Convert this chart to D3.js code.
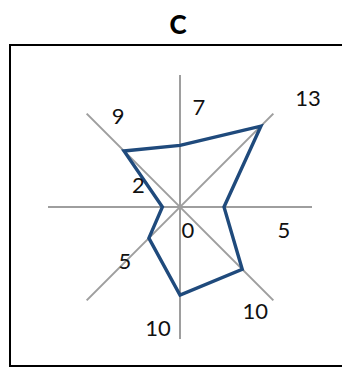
<!DOCTYPE html>
<html><head><meta charset="utf-8">
<script src="https://cdn.jsdelivr.net/npm/d3@7"></script>
<style>body{margin:0;background:#fff}svg{display:block}</style>
</head><body>
<svg id="c" width="342" height="369"></svg>
<script>
const title = "C";
const axesNames = ["N","NE","E","SE","S","SW","W","NW"];
const values = [7, 13, 5, 10, 10, 5, 2, 9];
const valueLabels = ["7","13","5","10","10","5","2","9"];
const radialDomain = [0, 15];
const centerLabel = "0";

const svg = d3.select("#c");
const cx = 180, cy = 207, R = 132;
const r = d3.scaleLinear().domain(radialDomain).range([0, R]);
const ang = d3.scalePoint().domain(axesNames.concat(["_end"])).range([0, 2*Math.PI]);

svg.append("rect").attr("x",10).attr("y",45).attr("width",340).attr("height",321)
  .attr("fill","none").attr("stroke","#000").attr("stroke-width",2);

svg.append("text").attr("x",178).attr("y",34).attr("text-anchor","middle")
  .attr("font-family","Lato, sans-serif").attr("font-weight",900).attr("font-size",26)
  .text(title);

const g = svg.append("g").attr("transform",`translate(${cx},${cy})`);
[0,1,2,3].forEach(i=>{
  const a = ang(axesNames[i]);
  g.append("line")
    .attr("x1", Math.sin(a)*R).attr("y1", -Math.cos(a)*R)
    .attr("x2", -Math.sin(a)*R).attr("y2", Math.cos(a)*R)
    .attr("stroke","#9e9e9e").attr("stroke-width",2);
});

const line = d3.lineRadial().angle((d,i)=>ang(axesNames[i])).radius(d=>r(d)).curve(d3.curveLinearClosed);
g.append("path").attr("d", line(values)).attr("fill","none")
  .attr("stroke","#1f4a7c").attr("stroke-width",3.4).attr("stroke-linejoin","miter");

const offsets = [[19,-30],[47,-20],[60,31],[13,50],[-22,41],[-24,31],[-24,-14],[-6,-27]];
values.forEach((v,i)=>{
  const a = ang(axesNames[i]);
  const x = Math.sin(a)*r(v), y = -Math.cos(a)*r(v);
  g.append("text").attr("x", x+offsets[i][0]).attr("y", y+offsets[i][1])
    .attr("text-anchor","middle").attr("font-family","Lato, sans-serif").attr("font-size",22)
    .attr("fill","#111").text(valueLabels[i]);
});
g.append("text").attr("x", r(0)+8).attr("y", 31).attr("text-anchor","middle")
  .attr("font-family","Lato, sans-serif").attr("font-size",22).attr("fill","#111").text(centerLabel);
</script>
</body></html>
